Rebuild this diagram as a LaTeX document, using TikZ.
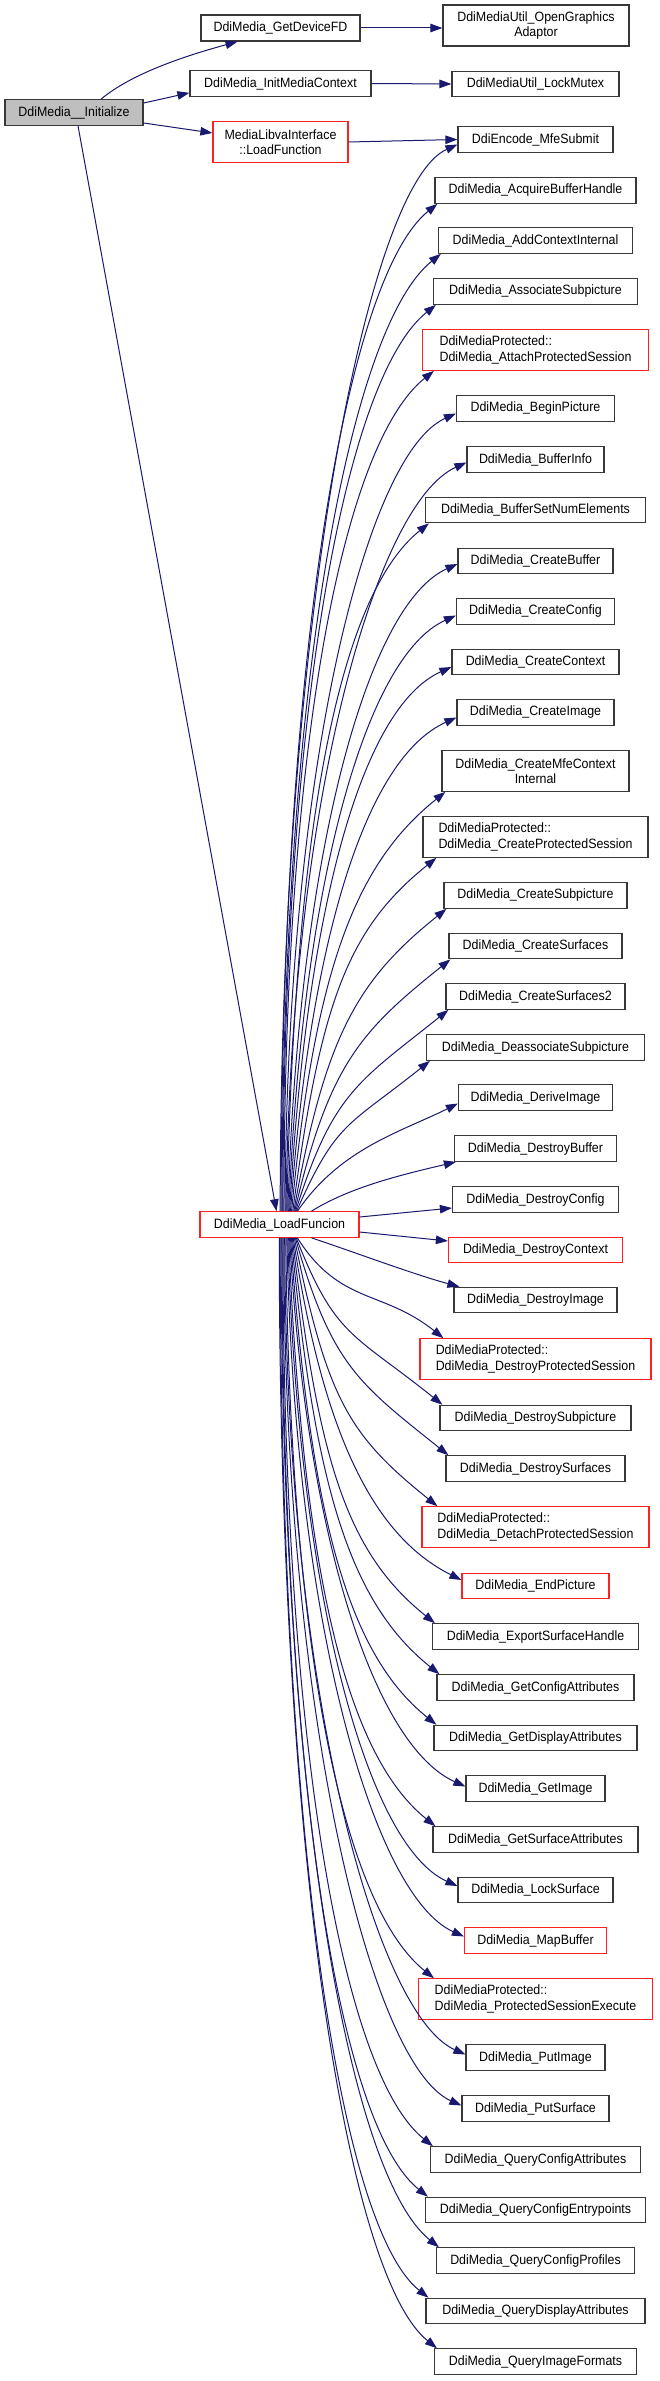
\documentclass[tikz,border=0pt]{standalone}
\usepackage{fontspec}
\usetikzlibrary{arrows.meta}
\newfontfamily\dfont{Liberation Sans}[FakeStretch=0.92]
\definecolor{edgeblue}{HTML}{191970}
\definecolor{boxgray}{HTML}{BFBFBF}
\definecolor{boxline}{HTML}{383838}
\definecolor{boxred}{HTML}{FF2020}
\tikzset{
  box/.style={draw=boxline, line width=1.2pt, fill=white, inner sep=0pt,
    minimum height=25.5pt, font=\dfont\fontsize{13.5}{15.5}\selectfont, text=black},
  redbox/.style={box, draw=boxred},
  two/.style={minimum height=40.5pt},
  edge/.style={draw=edgeblue, line width=1pt, -{Triangle[length=12pt,width=8.5pt]}}
}
\begin{document}
\begin{tikzpicture}[x=1pt,y=1pt]
\useasboundingbox (0,0) rectangle (659,-2381);
\fill[white] (0,0) rectangle (659,-2381);

% left / middle
\node[box, fill=boxgray, minimum width=138pt] (init) at (74,-112.5) {DdiMedia\_\_Initialize};
\node[box, minimum width=159pt, minimum height=26pt] (gdf) at (280.5,-28) {DdiMedia\_GetDeviceFD};
\node[box, minimum width=186pt, minimum height=41pt, align=center] (oga) at (536,-25.5) {DdiMediaUtil\_OpenGraphics\\Adaptor};
\node[box, minimum width=181pt] (imc) at (280.5,-83.5) {DdiMedia\_InitMediaContext};
\node[box, minimum width=167pt] (lm) at (535.5,-84) {DdiMediaUtil\_LockMutex};
\node[redbox, two, minimum width=135pt, align=center] (lfn) at (280.5,-142) {MediaLibvaInterface\\::LoadFunction};
\node[redbox, minimum width=159pt] (lf) at (279.5,-1224.5) {DdiMedia\_LoadFuncion};

% right column
\node[box, minimum width=155pt] (mfe) at (535.5,-139.5) {DdiEncode\_MfeSubmit};
\node[box, minimum width=201pt] (abh) at (535.5,-190.5) {DdiMedia\_AcquireBufferHandle};
\node[box, minimum width=194pt] (aci) at (535.5,-240.5) {DdiMedia\_AddContextInternal};
\node[box, minimum width=204pt] (asp) at (535.5,-291.5) {DdiMedia\_AssociateSubpicture};
\node[redbox, two, minimum width=226pt, align=left] (aps) at (535.5,-350) {DdiMediaProtected::\\DdiMedia\_AttachProtectedSession};
\node[box, minimum width=158pt] (bp) at (535.5,-408.5) {DdiMedia\_BeginPicture};
\node[box, minimum width=137pt] (bi) at (535.5,-459.5) {DdiMedia\_BufferInfo};
\node[box, minimum width=220pt] (bsn) at (535.5,-510) {DdiMedia\_BufferSetNumElements};
\node[box, minimum width=155pt] (cb) at (535.5,-561) {DdiMedia\_CreateBuffer};
\node[box, minimum width=158pt] (ccf) at (535.5,-611.5) {DdiMedia\_CreateConfig};
\node[box, minimum width=167pt] (cct) at (535.5,-662) {DdiMedia\_CreateContext};
\node[box, minimum width=157pt] (ci) at (535.5,-712.5) {DdiMedia\_CreateImage};
\node[box, two, minimum width=187pt, align=center] (cmc) at (535.5,-771) {DdiMedia\_CreateMfeContext\\Internal};
\node[box, two, minimum width=225pt, align=left] (cps) at (535.5,-837) {DdiMediaProtected::\\DdiMedia\_CreateProtectedSession};
\node[box, minimum width=183pt] (csp) at (535.5,-895.5) {DdiMedia\_CreateSubpicture};
\node[box, minimum width=173pt] (csf) at (535.5,-946) {DdiMedia\_CreateSurfaces};
\node[box, minimum width=179pt] (csf2) at (535.5,-996.5) {DdiMedia\_CreateSurfaces2};
\node[box, minimum width=218pt] (dsp) at (535.5,-1047.5) {DdiMedia\_DeassociateSubpicture};
\node[box, minimum width=154pt] (di) at (535.5,-1097.5) {DdiMedia\_DeriveImage};
\node[box, minimum width=162pt] (db) at (535.5,-1148.5) {DdiMedia\_DestroyBuffer};
\node[box, minimum width=166pt] (dcf) at (535.5,-1199.5) {DdiMedia\_DestroyConfig};
\node[redbox, minimum width=174pt] (dct) at (535.5,-1250) {DdiMedia\_DestroyContext};
\node[box, minimum width=163pt] (dim) at (535.5,-1300) {DdiMedia\_DestroyImage};
\node[redbox, two, minimum width=231pt, align=left] (dps) at (535.5,-1359) {DdiMediaProtected::\\DdiMedia\_DestroyProtectedSession};
\node[box, minimum width=191pt] (dsub) at (535.5,-1418) {DdiMedia\_DestroySubpicture};
\node[box, minimum width=179pt] (dsurf) at (535.5,-1468.5) {DdiMedia\_DestroySurfaces};
\node[redbox, two, minimum width=227pt, align=left] (dtps) at (535.5,-1527) {DdiMediaProtected::\\DdiMedia\_DetachProtectedSession};
\node[redbox, minimum width=147pt] (ep) at (535.5,-1586) {DdiMedia\_EndPicture};
\node[box, minimum width=206pt] (esh) at (535.5,-1636.5) {DdiMedia\_ExportSurfaceHandle};
\node[box, minimum width=197pt] (gca) at (535.5,-1687.5) {DdiMedia\_GetConfigAttributes};
\node[box, minimum width=203pt] (gda) at (535.5,-1738) {DdiMedia\_GetDisplayAttributes};
\node[box, minimum width=139pt] (gi) at (535.5,-1788.5) {DdiMedia\_GetImage};
\node[box, minimum width=205pt] (gsa) at (535.5,-1839.5) {DdiMedia\_GetSurfaceAttributes};
\node[box, minimum width=155pt] (ls) at (535.5,-1890) {DdiMedia\_LockSurface};
\node[redbox, minimum width=142pt] (mb) at (535.5,-1940.5) {DdiMedia\_MapBuffer};
\node[redbox, two, minimum width=234pt, align=left] (pse) at (535.5,-1999) {DdiMediaProtected::\\DdiMedia\_ProtectedSessionExecute};
\node[box, minimum width=139pt] (pi) at (535.5,-2057.5) {DdiMedia\_PutImage};
\node[box, minimum width=147pt] (ps) at (535.5,-2108.5) {DdiMedia\_PutSurface};
\node[box, minimum width=210pt] (qca) at (535.5,-2159.5) {DdiMedia\_QueryConfigAttributes};
\node[box, minimum width=220pt] (qce) at (535.5,-2210) {DdiMedia\_QueryConfigEntrypoints};
\node[box, minimum width=198pt] (qcp) at (535.5,-2260.5) {DdiMedia\_QueryConfigProfiles};
\node[box, minimum width=219pt] (qda) at (535.5,-2311) {DdiMedia\_QueryDisplayAttributes};
\node[box, minimum width=202pt] (qif) at (535.5,-2361.5) {DdiMedia\_QueryImageFormats};

% top edges
\draw[edge] ([xshift=27pt]init.north) .. controls +(30,25) and +(-55,-15) .. ([xshift=-43pt]gdf.south);
\draw[edge] ([yshift=9.5pt]init.east) -- ([yshift=4pt]imc.south west);
\draw[edge] ([yshift=-10.5pt]init.east) -- ([yshift=9pt]lfn.west);
\draw[edge] ([xshift=4pt]init.south) -- ([xshift=-3pt]lf.north);
\draw[edge] (gdf.east) -- (gdf.east -| oga.west);
\draw[edge] (imc.east) -- (lm.west);
\draw[edge] (lfn.east) -- (mfe.west);

% upward edges from LoadFuncion
\foreach \t/\cy/\an/\xs/\ys/\k in {
  mfe/139.5/west/0/-5/0.45, abh/190.5/south west/3/0/0.8,
  aci/240.5/south west/3/0/0.8, asp/291.5/south west/3/0/0.8,
  aps/350/south west/12/0/0.8, bp/408.5/west/0/-5/0.45,
  bi/459.5/west/0/-3/0.45, bsn/510/south west/4/0/0.8,
  cb/561/west/0/-3/0.45, ccf/611.5/west/0/-4/0.45,
  cct/662/west/0/-5/0.45, ci/712.5/west/0/-5/0.45,
  cmc/771/south west/4/0/0.8, cps/837/south west/14/0/0.8,
  csp/895.5/south west/3/0/0.8, csf/946/south west/2/0/0.8,
  csf2/996.5/south west/3/0/0.8, dsp/1047.5/south west/4/0/0.8,
  di/1097.5/west/0/-6/0.5}{
  \pgfmathsetmacro\D{1212-\cy}
  \pgfmathsetmacro\dx{20-0.018*\D}
  \pgfmathsetmacro\pc{max(0,50-0.06*\D)}
  \pgfmathsetmacro\pa{0.55*\D}
  \pgfmathsetmacro\qa{min(90,0.5*\D)}
  \pgfmathsetmacro\qb{\k*\qa}
  \draw[edge] ([xshift=\dx pt]lf.north) .. controls +(\pc,\pa) and +(-\qa,-\qb) .. ([xshift=\xs pt,yshift=\ys pt]\t.\an);
}

% near edges
\draw[edge] ([xshift=32pt]lf.north) .. controls +(40,25) and +(-50,-12) .. ([xshift=2pt]db.south west);
\draw[edge] ([yshift=7.5pt]lf.east) -- ([yshift=-8.5pt]dcf.west);
\draw[edge] ([yshift=-7.5pt]lf.east) -- ([yshift=9pt]dct.west);
\draw[edge] ([xshift=32pt]lf.south) .. controls +(45,-15) and +(-45,12) .. ([xshift=6pt]dim.north west);

% downward edges from LoadFuncion
\foreach \t/\cy/\an/\xs/\ys/\k in {
  dps/1359/north west/24/0/0.8, dsub/1418/north west/3/0/0.8,
  dsurf/1468.5/north west/3/0/0.8, dtps/1527/north west/16/0/0.8,
  ep/1586/west/0/6/0.5, esh/1636.5/north west/3/0/0.8,
  gca/1687.5/north west/3/0/0.8, gda/1738/north west/3/0/0.8,
  gi/1788.5/west/0/2/0.45, gsa/1839.5/north west/3/0/0.8,
  ls/1890/west/0/4/0.45, mb/1940.5/west/0/4/0.45,
  pse/1999/north west/16/0/0.8, pi/2057.5/west/0/3/0.45,
  ps/2108.5/west/0/3/0.45, qca/2159.5/north west/3/0/0.8,
  qce/2210/north west/3/0/0.8, qcp/2260.5/north west/3/0/0.8,
  qda/2311/north west/3/0/0.8, qif/2361.5/north west/3/0/0.8}{
  \pgfmathsetmacro\D{\cy-1237}
  \pgfmathsetmacro\dx{20-0.018*\D}
  \pgfmathsetmacro\pc{max(0,50-0.06*\D)}
  \pgfmathsetmacro\pa{0.55*\D}
  \pgfmathsetmacro\qa{min(90,0.5*\D)}
  \pgfmathsetmacro\qb{\k*\qa}
  \draw[edge] ([xshift=\dx pt]lf.south) .. controls +(\pc,-\pa) and +(-\qa,\qb) .. ([xshift=\xs pt,yshift=\ys pt]\t.\an);
}
\end{tikzpicture}
\end{document}
